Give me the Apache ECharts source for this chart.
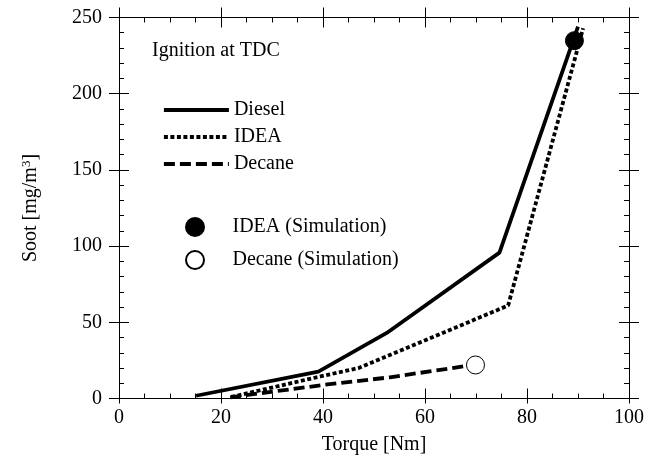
<!DOCTYPE html>
<html>
<head>
<meta charset="utf-8">
<script src="https://cdn.jsdelivr.net/npm/echarts@6/dist/echarts.min.js"></script>
<style>html,body{margin:0;padding:0;background:#fff}#c{width:662px;height:468px}</style>
</head>
<body>
<div id="c"></div>
<script>
// Data
const dieselData = [[15.1, 1.8], [39.1, 17.6], [52.5, 43], [74.6, 95.7], [90, 244]];
const ideaData = [[22, 1], [39.5, 14.5], [47, 20], [76.3, 61], [91, 243]];
const decaneData = [[21.8, 0.8], [40.1, 8.9], [53.1, 13.9], [68, 21.3]];
const ideaSim = [[89.3, 234.8]];
const decaneSim = [[69.9, 22]];
const lineNames = ['Diesel', 'IDEA', 'Decane'];
const simNames = ['IDEA (Simulation)', 'Decane (Simulation)'];
const xTitle = 'Torque [Nm]';
const yTitle = 'Soot [mg/m{sup|3}]';
const annotation = 'Ignition at TDC';

const FONT = 'Liberation Serif';
const chart = echarts.init(document.getElementById('c'), null, {renderer: 'canvas'});

function xAx(pos, inside, len, withLine, withLabel) {
  return {
    type: 'value', position: pos, min: 0, max: 100, interval: 20,
    axisLine: {show: withLine, onZero: false, lineStyle: {color: '#000', width: 1}},
    axisTick: {show: true, inside: inside, length: len, lineStyle: {color: '#000', width: 1}},
    minorTick: {show: withLine, splitNumber: 4, length: 5, lineStyle: {color: '#000', width: 1}},
    splitLine: {show: false},
    axisLabel: {show: withLabel, color: '#000', fontFamily: FONT, fontSize: 20, margin: 9},
    name: withLabel ? xTitle : '', nameLocation: 'middle', nameGap: 36,
    nameTextStyle: {color: '#000', fontFamily: FONT, fontSize: 20}
  };
}
function yAx(pos, inside, len, withLine, withLabel) {
  return {
    type: 'value', position: pos, min: 0, max: 250, interval: 50,
    axisLine: {show: withLine, onZero: false, lineStyle: {color: '#000', width: 1}},
    axisTick: {show: true, inside: inside, length: len, lineStyle: {color: '#000', width: 1}},
    minorTick: {show: withLine, splitNumber: 5, length: 5, lineStyle: {color: '#000', width: 1}},
    splitLine: {show: false},
    axisLabel: {show: withLabel, color: '#000', fontFamily: FONT, fontSize: 20, margin: 17},
    name: withLabel ? yTitle : '', nameLocation: 'middle', nameGap: 78,
    nameTextStyle: {color: '#000', fontFamily: FONT, fontSize: 20,
      rich: {sup: {fontFamily: FONT, fontSize: 13, verticalAlign: 'top', color: '#000', padding: [0, 0, 8, 0]}}}
  };
}

const option = {
  animation: false,
  backgroundColor: '#fff',
  textStyle: {fontFamily: FONT},
  grid: {left: 119, right: 33, top: 17.5, bottom: 69.5, containLabel: false},
  title: {text: annotation, left: 152, top: 41, padding: 0,
    textStyle: {color: '#000', fontFamily: FONT, fontSize: 20, fontWeight: 'normal'}},
  legend: [
    {data: lineNames, orient: 'vertical', left: 162, top: 100, itemWidth: 65, itemHeight: 14, itemGap: 7, padding: 0,
      itemStyle: {opacity: 0}, lineStyle: {width: 3.8},
      textStyle: {color: '#000', fontFamily: FONT, fontSize: 20}, selectedMode: false},
    {data: simNames, orient: 'vertical', left: 185, top: 217, itemWidth: 65, itemHeight: 18, itemGap: 13, padding: 0,
      textStyle: {color: '#000', fontFamily: FONT, fontSize: 20}, selectedMode: false}
  ],
  xAxis: [
    xAx('bottom', true, 10, true, true),
    xAx('bottom', false, 5, false, false),
    xAx('top', true, 10, true, false),
    xAx('top', false, 10, false, false)
  ],
  yAxis: [
    yAx('left', true, 10, true, true),
    yAx('left', false, 10, false, false),
    yAx('right', true, 10, true, false),
    yAx('right', false, 10, false, false)
  ],
  series: [
    {name: lineNames[0], type: 'line', data: dieselData, symbol: 'none', color: '#000',
      lineStyle: {color: '#000', width: 3.8, type: 'solid'}},
    {name: lineNames[1], type: 'line', data: ideaData, symbol: 'none', color: '#000',
      lineStyle: {color: '#000', width: 3.8, type: [4, 2.5]}},
    {name: lineNames[2], type: 'line', data: decaneData, symbol: 'none', color: '#000',
      lineStyle: {color: '#000', width: 3.8, type: [11, 5]}},
    {name: simNames[0], type: 'scatter', data: ideaSim, symbol: 'circle', symbolSize: 18,
      itemStyle: {color: '#000', borderColor: '#000', borderWidth: 1, opacity: 1}},
    {name: simNames[1], type: 'scatter', data: decaneSim, symbol: 'circle', symbolSize: 18,
      itemStyle: {color: '#fff', borderColor: '#000', borderWidth: 1, opacity: 1}}
  ]
};
chart.setOption(option);
</script>
</body>
</html>
